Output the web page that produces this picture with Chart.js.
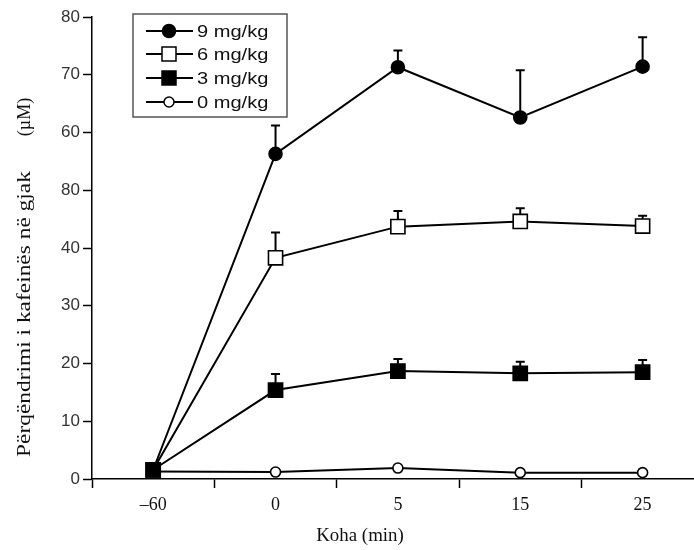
<!DOCTYPE html>
<html>
<head>
<meta charset="utf-8">
<script src="https://cdn.jsdelivr.net/npm/chart.js@4.4.1/dist/chart.umd.min.js"></script>
<style>
    html, body { margin: 0; padding: 0; background: #fff; overflow: hidden; }
    canvas { display: block; }
</style>
</head>
<body>
<canvas id="grafico" width="694" height="550"></canvas>
<script>
// categorias del eje x (minutos)
const timeLabels = ['–60', '0', '5', '15', '25'];
// etiquetas del eje y tal como aparecen en la figura
const yTickLabels = ['0', '10', '20', '30', '40', '80', '60', '70', '80'];

const doseNames = ['9 mg/kg', '6 mg/kg', '3 mg/kg', '0 mg/kg'];

// medias (µM)
const mean9 = [1.6, 56.3, 71.3, 62.6, 71.4];
const mean6 = [1.6, 38.3, 43.7, 44.6, 43.8];
const mean3 = [1.6, 15.4, 18.7, 18.3, 18.5];
const mean0 = [1.3, 1.2, 1.9, 1.1, 1.1];

// extremo superior de la barra de error
const top9 = [null, 61.2, 74.2, 70.8, 76.5];
const top6 = [null, 42.7, 46.4, 46.9, 45.6];
const top3 = [null, 18.2, 20.8, 20.3, 20.6];
const top0 = [null, null, null, null, null];

const errTops = [top9, top6, top3, top0];

function puntos(valores) {
    return valores.map((v, i) => ({ x: i, y: v }));
}

// texto estirado horizontalmente (la figura original esta algo ensanchada)
function textoAncho(ctx, txt, x, y, escala) {
    ctx.save();
    ctx.translate(x, y);
    ctx.scale(escala, 1);
    ctx.fillText(txt, 0, 0);
    ctx.restore();
}

const errorBars = {
    id: 'errorBars',
    beforeDatasetsDraw(chart) {
        const ctx = chart.ctx;
        const xs = chart.scales.x;
        const ys = chart.scales.y;
        ctx.save();
        ctx.strokeStyle = '#000';
        ctx.lineWidth = 2;
        chart.data.datasets.forEach((ds) => {
            const tops = errTops[ds.doseIndex];
            ds.data.forEach((p, i) => {
                if (tops[i] == null) return;
                const px = xs.getPixelForValue(p.x);
                const py = ys.getPixelForValue(p.y);
                const pt = ys.getPixelForValue(tops[i]);
                ctx.beginPath();
                ctx.moveTo(px, py);
                ctx.lineTo(px, pt);
                ctx.moveTo(px - 4.5, pt);
                ctx.lineTo(px + 4.5, pt);
                ctx.stroke();
            });
        });
        ctx.restore();
    }
};

const leyenda = {
    id: 'leyenda',
    afterDraw(chart) {
        const ctx = chart.ctx;
        ctx.save();
        // titulos de los ejes
        ctx.fillStyle = '#111';
        ctx.font = '18px "Liberation Serif", "Times New Roman", serif';
        ctx.textAlign = 'center';
        ctx.textBaseline = 'middle';
        textoAncho(ctx, 'Koha (min)', 360, 536, 1.05);
        ctx.translate(25, 0);
        ctx.rotate(-Math.PI / 2);
        // en el sistema girado, x = -y de la pagina
        ctx.textAlign = 'left';
        textoAncho(ctx, 'Përqëndrimi i kafeinës në gjak', -457, 0, 1.3);
        ctx.textAlign = 'center';
        textoAncho(ctx, '(µM)', -117, 0, 1.0);
        ctx.restore();

        ctx.save();
        ctx.strokeStyle = '#555';
        ctx.lineWidth = 1.5;
        ctx.strokeRect(133, 14, 154, 103);
        const filas = [31, 54, 78, 102];
        chart.data.datasets.slice().sort((a, b) => a.doseIndex - b.doseIndex).forEach((ds, i) => {
            const y = filas[i];
            ctx.strokeStyle = '#000';
            ctx.lineWidth = 2;
            ctx.beginPath();
            ctx.moveTo(146, y);
            ctx.lineTo(193, y);
            ctx.stroke();
            ctx.fillStyle = ds.pointBackgroundColor;
            ctx.lineWidth = 1.5;
            ctx.beginPath();
            if (ds.pointStyle === 'rect') {
                ctx.rect(169 - 7, y - 7, 14, 14);
            } else {
                ctx.arc(169, y, ds.pointRadius, 0, Math.PI * 2);
            }
            ctx.fill();
            ctx.stroke();
            ctx.fillStyle = '#111';
            ctx.font = '17px "Liberation Sans", Arial, sans-serif';
            ctx.textAlign = 'left';
            ctx.textBaseline = 'middle';
            textoAncho(ctx, doseNames[ds.doseIndex], 197, y + 1, 1.18);
        });
        ctx.restore();
    }
};

function serie(idx, valores, estilo, radio, relleno, orden) {
    return {
        label: doseNames[idx],
        doseIndex: idx,
        data: puntos(valores),
        borderColor: '#000',
        borderWidth: 2,
        pointStyle: estilo,
        pointRadius: radio,
        pointBackgroundColor: relleno,
        pointBorderColor: '#000',
        pointBorderWidth: 1.6,
        tension: 0,
        order: orden
    };
}

new Chart(document.getElementById('grafico'), {
    type: 'line',
    data: {
        datasets: [
            serie(2, mean3, 'rect', 10, '#000', 0),
            serie(0, mean9, 'circle', 6.5, '#000', 1),
            serie(1, mean6, 'rect', 10, '#fff', 2),
            serie(3, mean0, 'circle', 5, '#fff', 3)
        ]
    },
    options: {
        responsive: false,
        animation: false,
        devicePixelRatio: 1,
        layout: { autoPadding: false, padding: { top: 17, right: 0, left: 0, bottom: 0 } },
        plugins: {
            legend: { display: false },
            tooltip: { enabled: false }
        },
        scales: {
            x: {
                type: 'linear',
                min: -0.5,
                max: 4.42,
                afterFit(scale) {
                    scale.height = 71;
                    scale.paddingRight = 0;
                    scale.paddingLeft = 0;
                },
                afterBuildTicks(scale) {
                    const t = [];
                    for (let v = -0.5; v <= 4; v += 0.5) t.push({ value: v });
                    scale.ticks = t;
                },
                ticks: {
                    autoSkip: false,
                    maxRotation: 0,
                    padding: 6,
                    color: '#111',
                    font: { family: '"Liberation Serif", "Times New Roman", serif', size: 18 },
                    callback: (v) => Number.isInteger(v) ? timeLabels[v] : ''
                },
                grid: {
                    drawOnChartArea: false,
                    tickLength: 9,
                    tickWidth: 1.5,
                    tickColor: (c) => (c.tick && Number.isInteger(c.tick.value)) ? 'rgba(0,0,0,0)' : '#000'
                },
                border: { display: true, color: '#000', width: 1.5 }
            },
            y: {
                min: 0,
                max: 80,
                afterFit(scale) { scale.width = 92; },
                ticks: {
                    stepSize: 10,
                    padding: 3,
                    color: '#333',
                    font: { family: '"Liberation Sans", Arial, sans-serif', size: 17 },
                    callback: (v) => yTickLabels[v / 10]
                },
                grid: {
                    drawOnChartArea: false,
                    tickLength: 9,
                    tickWidth: 1.5,
                    tickColor: '#000'
                },
                border: { display: true, color: '#000', width: 1.5 }
            }
        }
    },
    plugins: [errorBars, leyenda]
});
</script>
</body>
</html>
